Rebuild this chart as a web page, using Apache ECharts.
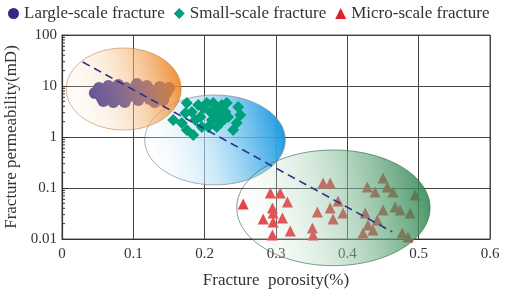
<!DOCTYPE html>
<html>
<head>
<meta charset="utf-8">
<script src="https://cdn.jsdelivr.net/npm/echarts@6/dist/echarts.min.js"></script>
<style>
  html, body { margin: 0; padding: 0; background: #fff; }
  #chart { width: 505px; height: 293px; }
</style>
</head>
<body>
<div id="chart"></div>
<script>
// axis ticks
var xTicks = [0, 0.1, 0.2, 0.3, 0.4, 0.5, 0.6];
var yTicks = [0.01, 0.1, 1, 10, 100];
var minorMultiples = [2, 3, 4, 5, 6, 7, 8, 9];

// large-scale fracture: [porosity, permeability]
var largeScale = [
  [0.046, 7.29], [0.052, 9.14], [0.055, 6.08], [0.060, 7.98], [0.065, 10.0],
  [0.058, 5.08], [0.070, 6.67], [0.076, 8.35], [0.080, 5.56], [0.084, 6.97],
  [0.090, 9.14], [0.088, 4.85], [0.095, 6.37], [0.101, 7.62], [0.107, 5.31],
  [0.111, 9.14], [0.115, 6.67], [0.119, 10.0], [0.123, 5.56], [0.128, 7.98],
  [0.133, 6.37], [0.137, 9.55], [0.142, 5.31], [0.146, 7.29], [0.150, 9.14],
  [0.072, 4.85], [0.105, 10.9], [0.130, 4.85], [0.093, 7.98], [0.079, 10.5]
];

// small-scale fracture
var smallScale = [
  [0.156, 2.15], [0.168, 1.88], [0.175, 1.37], [0.184, 1.09], [0.173, 2.96],
  [0.175, 4.64], [0.182, 3.09], [0.191, 4.24], [0.198, 3.70], [0.194, 2.47],
  [0.203, 4.64], [0.208, 3.09], [0.210, 2.15], [0.212, 4.64], [0.217, 3.38],
  [0.219, 2.70], [0.222, 1.88], [0.224, 4.24], [0.229, 3.09], [0.231, 4.64],
  [0.233, 2.47], [0.240, 1.37], [0.245, 1.88], [0.250, 2.70], [0.247, 3.87],
  [0.196, 1.57], [0.187, 2.15], [0.205, 1.57], [0.217, 1.57], [0.226, 2.15]
];

// micro-scale fracture
var microScale = [
  [0.254, 0.0485], [0.292, 0.0798], [0.306, 0.0798], [0.316, 0.0531], [0.295, 0.0405],
  [0.296, 0.0324], [0.282, 0.0247], [0.309, 0.0258], [0.296, 0.0216], [0.295, 0.0120],
  [0.320, 0.0144], [0.351, 0.0164], [0.358, 0.0338], [0.366, 0.125], [0.376, 0.125],
  [0.376, 0.0405], [0.387, 0.0556], [0.380, 0.0247], [0.394, 0.0324], [0.352, 0.0120],
  [0.425, 0.0324], [0.428, 0.105], [0.439, 0.0835], [0.442, 0.0236], [0.450, 0.0370],
  [0.450, 0.157], [0.456, 0.105], [0.464, 0.0835], [0.467, 0.0424], [0.474, 0.0370],
  [0.429, 0.0188], [0.422, 0.0131], [0.477, 0.0131], [0.488, 0.0324], [0.495, 0.0729],
  [0.485, 0.0109], [0.436, 0.0150]
];

// trend line end points
var trendLine = [[0.029, 29.5], [0.463, 0.0138]];

// zone ellipses: [xMin, xMax, yMin, yMax]
var zoneLarge = [[0.006, 0.167, 1.37, 55.6]];
var zoneSmall = [[0.116, 0.313, 0.115, 6.67]];
var zoneMicro = [[0.245, 0.516, 0.003, 0.556]];

var serifFont = '"Liberation Serif", "DejaVu Serif", serif';

function fmt(v) {
  return String(parseFloat(Number(v).toPrecision(6)));
}

// 椭圆区域
function ellipseSeries(name, data, z, stops, stroke) {
  return {
    name: name,
    type: 'custom',
    coordinateSystem: 'cartesian2d',
    data: data,
    encode: { x: [0, 1], y: [2, 3] },
    z: z,
    clip: false,
    silent: true,
    renderItem: function (params, api) {
      var p0 = api.coord([api.value(0), api.value(3)]);
      var p1 = api.coord([api.value(1), api.value(2)]);
      return {
        type: 'ellipse',
        shape: {
          cx: (p0[0] + p1[0]) / 2,
          cy: (p0[1] + p1[1]) / 2,
          rx: Math.abs(p1[0] - p0[0]) / 2,
          ry: Math.abs(p1[1] - p0[1]) / 2
        },
        style: {
          fill: new echarts.graphic.LinearGradient(0, 0.7, 1, 0.3, stops),
          stroke: stroke,
          lineWidth: 1
        }
      };
    }
  };
}

// log 副刻度
var minorData = [];
for (var i = 0; i < yTicks.length - 1; i++) {
  minorMultiples.forEach(function (m) { minorData.push([0, yTicks[i] * m]); });
}

var chart = echarts.init(document.getElementById('chart'));

chart.setOption({
  animation: false,
  textStyle: { fontFamily: serifFont },
  legend: {
    data: ['Largle-scale fracture', 'Small-scale fracture', 'Micro-scale fracture'],
    left: 3,
    top: 0,
    itemWidth: 11,
    itemHeight: 11,
    itemGap: 9,
    textStyle: { fontFamily: serifFont, fontSize: 17, color: '#333' }
  },
  grid: {
    left: 62,
    right: 15,
    top: 35,
    bottom: 54,
    outerBoundsMode: 'none',
    containLabel: false,
    show: true,
    borderColor: '#555',
    borderWidth: 1
  },
  xAxis: {
    type: 'value',
    min: 0,
    max: 0.6,
    interval: 0.1,
    name: 'Fracture  porosity(%)',
    nameLocation: 'middle',
    nameGap: 33,
    nameTextStyle: { fontFamily: serifFont, fontSize: 17, color: '#333' },
    axisLine: { lineStyle: { color: '#333', width: 1.2 } },
    axisTick: { show: false },
    axisLabel: { fontFamily: serifFont, fontSize: 15, color: '#333', margin: 8, formatter: fmt },
    splitLine: { show: true, lineStyle: { color: '#444', width: 1 } }
  },
  yAxis: {
    type: 'log',
    logBase: 10,
    min: 0.01,
    max: 100,
    name: 'Fracture permeability(mD)',
    nameLocation: 'middle',
    nameGap: 42,
    nameTextStyle: { fontFamily: serifFont, fontSize: 17, color: '#333' },
    axisLine: { show: true, lineStyle: { color: '#333', width: 1.2 } },
    axisTick: { show: true, inside: true, length: 6, lineStyle: { color: '#333' } },
    axisLabel: { fontFamily: serifFont, fontSize: 15, color: '#333', margin: 5, formatter: fmt },
    splitLine: { show: true, lineStyle: { color: '#444', width: 1 } }
  },
  series: [
    ellipseSeries('zoneSmall', zoneSmall, 1, [
      { offset: 0, color: 'rgba(255,255,255,0.15)' },
      { offset: 0.45, color: 'rgba(175,222,246,0.65)' },
      { offset: 1, color: 'rgba(18,150,225,1)' }
    ], 'rgba(120,120,120,0.6)'),
    {
      name: 'Largle-scale fracture',
      type: 'scatter',
      data: largeScale,
      symbol: 'circle',
      symbolSize: 12,
      z: 2,
      itemStyle: { color: '#34298a', opacity: 1 }
    },
    ellipseSeries('zoneLarge', zoneLarge, 3, [
      { offset: 0, color: 'rgba(253,242,232,0.1)' },
      { offset: 0.45, color: 'rgba(247,200,150,0.4)' },
      { offset: 1, color: 'rgba(236,128,30,0.92)' }
    ], 'rgba(190,110,40,0.5)'),
    {
      name: 'Small-scale fracture',
      type: 'scatter',
      data: smallScale,
      symbol: 'diamond',
      symbolSize: 12,
      z: 4,
      itemStyle: { color: '#00a07a', opacity: 1 }
    },
    {
      name: 'Micro-scale fracture',
      type: 'scatter',
      data: microScale,
      symbol: 'triangle',
      symbolSize: 11,
      z: 4,
      itemStyle: { color: '#e3202a', opacity: 1 }
    },
    ellipseSeries('zoneMicro', zoneMicro, 5, [
      { offset: 0, color: 'rgba(255,255,255,0.1)' },
      { offset: 0.45, color: 'rgba(160,205,175,0.45)' },
      { offset: 1, color: 'rgba(40,130,75,0.88)' }
    ], 'rgba(40,100,60,0.6)'),
    {
      name: 'trend',
      type: 'line',
      data: trendLine,
      symbol: 'none',
      z: 6,
      silent: true,
      lineStyle: { color: '#2a2f8c', width: 1.6, type: [8, 5] }
    },
    {
      name: 'minorTicks',
      type: 'custom',
      coordinateSystem: 'cartesian2d',
      data: minorData,
      z: 6,
      silent: true,
      renderItem: function (params, api) {
        var p = api.coord([api.value(0), api.value(1)]);
        return {
          type: 'line',
          shape: { x1: p[0], y1: p[1], x2: p[0] + 3, y2: p[1] },
          style: { stroke: '#333', lineWidth: 1 }
        };
      }
    }
  ]
});
</script>
</body>
</html>
